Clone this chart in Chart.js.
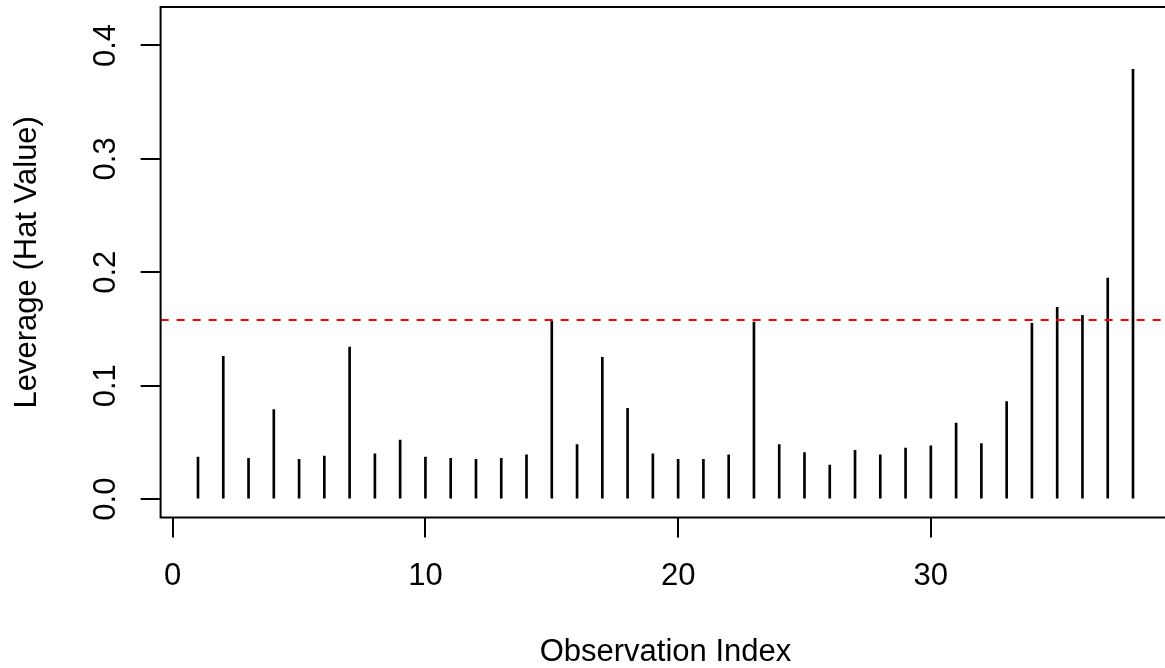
<!DOCTYPE html>
<html>
<head>
<meta charset="utf-8">
<script src="https://cdn.jsdelivr.net/npm/chart.js@4.4.0/dist/chart.umd.min.js"></script>
<style>
html,body{margin:0;padding:0;background:#fff;overflow:hidden;}
#wrap{width:1165px;height:668px;overflow:hidden;position:relative;background:#fff;}
canvas{display:block;}
</style>
</head>
<body>
<div id="wrap"><canvas id="c" width="1172" height="668"></canvas></div>
<script>
// ---- data ----
const observationIndex = [1,2,3,4,5,6,7,8,9,10,11,12,13,14,15,16,17,18,19,20,21,22,23,24,25,26,27,28,29,30,31,32,33,34,35,36,37,38];
const leverage = [0.037,0.126,0.036,0.079,0.035,0.038,0.134,0.040,0.052,0.037,
                  0.036,0.035,0.036,0.039,0.157,0.048,0.125,0.080,0.040,0.035,
                  0.035,0.039,0.156,0.048,0.041,0.030,0.043,0.039,0.045,0.047,
                  0.067,0.049,0.086,0.155,0.169,0.162,0.195,0.379];
const threshold = 0.158;
const xTickValues = [0,10,20,30];
const yTickValues = [0,0.1,0.2,0.3,0.4];
const xLimits = [-0.48, 39.48];
const yLimits = [-0.0162, 0.4339];
const xTitle = 'Observation Index';
const yTitle = 'Leverage (Hat Value)';

// ---- chart ----
Chart.defaults.font.family = "'Liberation Sans', Arial, Helvetica, sans-serif";
Chart.defaults.color = '#000';
const FS = 31;

const framePlugin = {
  id: 'frameAndThreshold',
  afterDatasetsDraw(chart) {
    const {ctx, chartArea: a, scales: {y}} = chart;
    ctx.save();
    const py = y.getPixelForValue(threshold);
    ctx.strokeStyle = '#ff0000';
    ctx.lineWidth = 2;
    ctx.setLineDash([8, 8]);
    ctx.beginPath();
    ctx.moveTo(a.left, py);
    ctx.lineTo(a.right, py);
    ctx.stroke();
    ctx.setLineDash([]);
    ctx.strokeStyle = '#000';
    ctx.lineWidth = 2;
    ctx.strokeRect(a.left, a.top, a.right - a.left, a.bottom - a.top);
    ctx.restore();
  }
};

function zeroPad(s) {
  s.paddingLeft = 0; s.paddingRight = 0; s.paddingTop = 0; s.paddingBottom = 0;
}

new Chart(document.getElementById('c'), {
  type: 'bar',
  data: {
    datasets: [{
      data: observationIndex.map((x, i) => ({x: x, y: leverage[i]})),
      backgroundColor: '#000',
      borderWidth: 0,
      barThickness: 2
    }]
  },
  options: {
    responsive: false,
    animation: false,
    devicePixelRatio: 1,
    layout: {padding: {left: 0, top: 7, right: 1.6, bottom: 0}},
    plugins: {legend: {display: false}, tooltip: {enabled: false}},
    scales: {
      x: {
        type: 'linear',
        min: xLimits[0],
        max: xLimits[1],
        offset: false,
        grid: {offset: false, drawOnChartArea: false, drawTicks: true, tickLength: 20,
               tickWidth: 2, tickColor: '#000', lineWidth: 2, color: '#000'},
        border: {display: false},
        ticks: {font: {size: FS}, padding: 20, maxRotation: 0, minRotation: 0, autoSkip: false,
                color: '#000', callback: v => String(v)},
        title: {display: true, text: xTitle, color: '#000',
                font: {size: FS, lineHeight: 1}, padding: {top: 0, bottom: 0}},
        afterBuildTicks: s => { s.ticks = xTickValues.map(v => ({value: v})); },
        afterFit: s => { s.height = 150.5; zeroPad(s); }
      },
      y: {
        type: 'linear',
        min: yLimits[0],
        max: yLimits[1],
        grid: {drawOnChartArea: false, drawTicks: true, tickLength: 20,
               tickWidth: 2, tickColor: '#000', lineWidth: 2, color: '#000'},
        border: {display: false},
        ticks: {font: {size: FS}, padding: 13, minRotation: 90, maxRotation: 90,
                crossAlign: 'center', autoSkip: false, color: '#000',
                callback: v => Number(v).toFixed(1)},
        title: {display: true, text: yTitle, color: '#000',
                font: {size: FS, lineHeight: 1}, padding: {top: 12, bottom: 0}},
        afterBuildTicks: s => { s.ticks = yTickValues.map(v => ({value: v})); },
        afterFit: s => { s.width = 160.6; zeroPad(s); }
      }
    }
  },
  plugins: [framePlugin]
});
</script>
</body>
</html>
